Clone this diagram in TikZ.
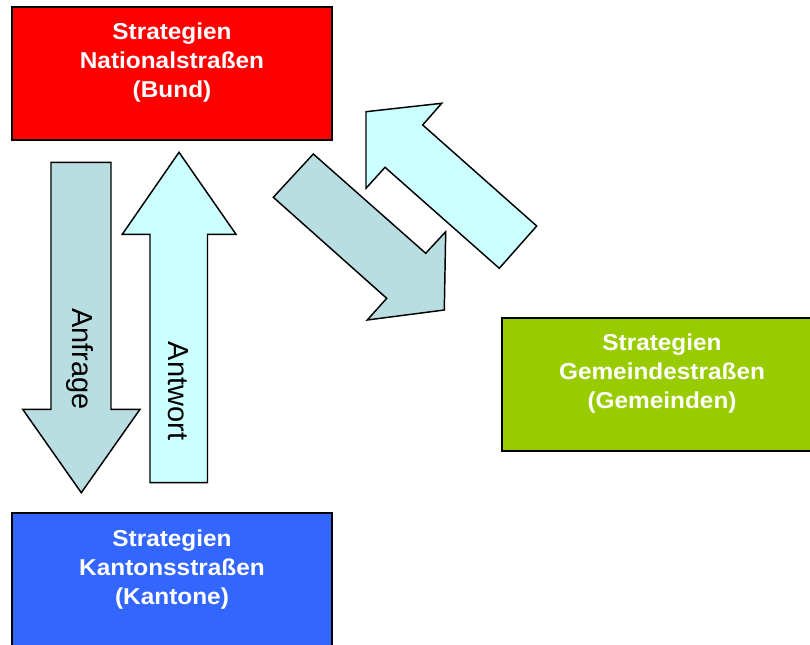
\documentclass[tikz,border=0pt]{standalone}
\usepackage{fontspec}
\setmainfont{Liberation Sans}
\definecolor{natred}{RGB}{255,0,0}
\definecolor{kantblue}{RGB}{51,102,255}
\definecolor{gemgreen}{RGB}{153,204,0}
\definecolor{askfill}{RGB}{185,222,226}
\definecolor{replyfill}{RGB}{204,255,255}
\begin{document}
\begin{tikzpicture}[x=0.75pt,y=-0.75pt,
  levelbox/.style={draw=black,line width=1.4pt,minimum width=240pt,minimum height=100pt,outer sep=0pt,inner sep=0pt},
  leveltext/.style={text=white,font=\fontsize{17.25}{21.75}\selectfont\bfseries,align=center,xscale=1.06,inner sep=0pt,anchor=north},
  blockarrow/.style={draw=black,line width=1.1pt,line join=miter},
  arrowtext/.style={font=\fontsize{21.75}{26}\selectfont,rotate=-90,anchor=base,inner sep=0pt}]
\useasboundingbox (0,0) rectangle (810,645);

% the three strategy levels
\node[levelbox,fill=natred]   (bund) at (172,73.3)  {};
\node[levelbox,fill=kantblue] (kant) at (172,579.5) {};
\node[levelbox,fill=gemgreen] (gem)  at (662,384.5) {};
\node[leveltext] (bundtxt) at ([yshift=-12.2pt]bund.north) {Strategien\\Nationalstraßen\\(Bund)};
\node[leveltext] (kanttxt) at ([yshift=-12.4pt]kant.north) {Strategien\\Kantonsstraßen\\(Kantone)};
\node[leveltext] (gemtxt)  at ([yshift=-11.9pt]gem.north)  {Strategien\\Gemeindestraßen\\(Gemeinden)};

% request: Bund -> Kantone
\draw[blockarrow,fill=askfill] (51,162.3) -- (111,162.3) -- (111,409.3) -- (140,409.3)
  -- (81.3,492.7) -- (22.7,409.3) -- (51,409.3) -- cycle;
% answer: Kantone -> Bund
\draw[blockarrow,fill=replyfill] (150,482.7) -- (207.5,482.7) -- (207.5,234.3) -- (236,234.3)
  -- (179,152.3) -- (122.3,234.3) -- (150,234.3) -- cycle;
% Bund -> Gemeinden
\draw[blockarrow,fill=askfill] (273.3,197.3) -- (313.3,154) -- (425.7,253.3) -- (445.7,231.7)
  -- (444.3,310) -- (367.3,320) -- (386.7,298.3) -- cycle;
% Gemeinden -> Bund
\draw[blockarrow,fill=replyfill] (385,167.3) -- (366,188.3) -- (366,111.7) -- (441.7,103.3)
  -- (422.7,125) -- (536.7,226) -- (499.3,268.3) -- cycle;

\node[arrowtext] (asklbl)   at (72.7,359) {Anfrage};
\node[arrowtext] (replylbl) at (168.3,391) {Antwort};
\end{tikzpicture}
\end{document}
